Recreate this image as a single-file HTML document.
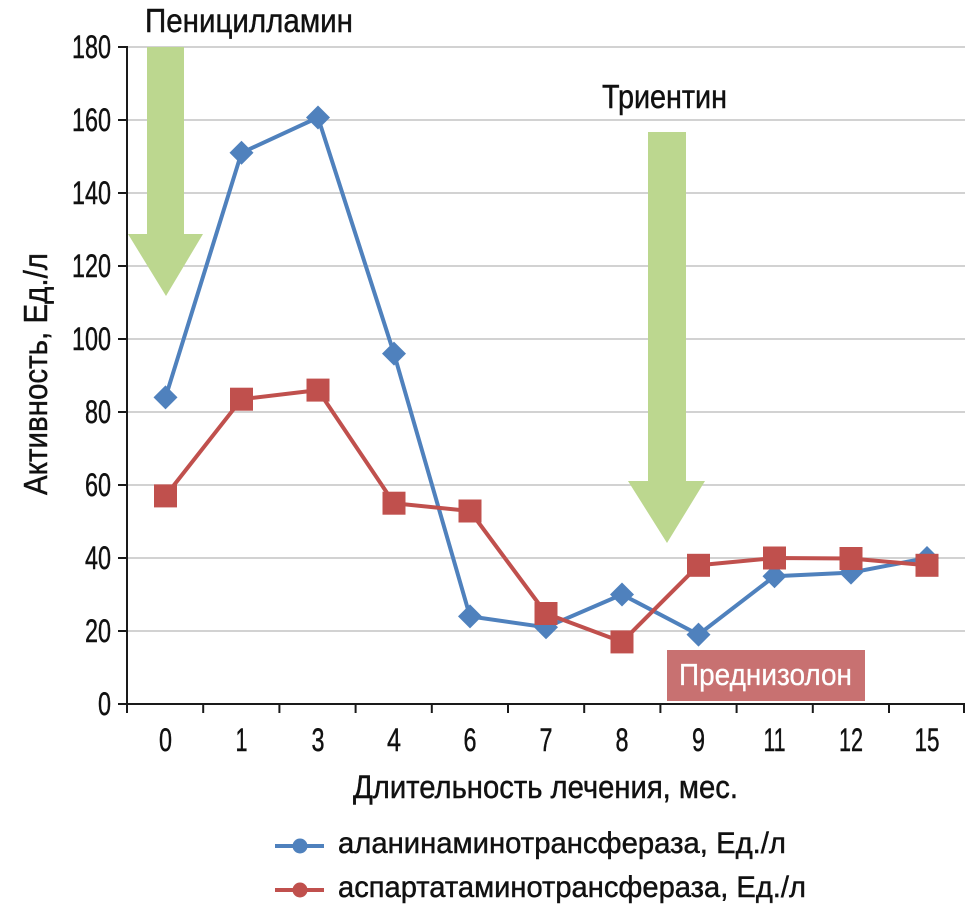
<!DOCTYPE html>
<html>
<head>
<meta charset="utf-8">
<style>
html,body{margin:0;padding:0;background:#fff;}
svg{display:block;}
text{font-family:"Liberation Sans","DejaVu Sans",sans-serif;fill:#111;stroke:#111;stroke-width:0.45px;}
</style>
</head>
<body>
<svg width="980" height="909" viewBox="0 0 980 909" xmlns="http://www.w3.org/2000/svg">
  <rect x="0" y="0" width="980" height="909" fill="#fff"/>
  <!-- gridlines -->
  <g stroke="#c4c4c4" stroke-width="1.5">
    <line x1="127" y1="47" x2="965" y2="47"/>
    <line x1="127" y1="120" x2="965" y2="120"/>
    <line x1="127" y1="193" x2="965" y2="193"/>
    <line x1="127" y1="266" x2="965" y2="266"/>
    <line x1="127" y1="339" x2="965" y2="339"/>
    <line x1="127" y1="412" x2="965" y2="412"/>
    <line x1="127" y1="485" x2="965" y2="485"/>
    <line x1="127" y1="558" x2="965" y2="558"/>
    <line x1="127" y1="631" x2="965" y2="631"/>
  </g>
  <!-- green arrows -->
  <polygon points="147,47 184,47 184,234 203,234 166,296 128,234 147,234" fill="#bcd78f"/>
  <polygon points="648,132 686,132 686,481 705,481 667,543 628,481 648,481" fill="#bcd78f"/>
  <!-- axes -->
  <g stroke="#1a1a1a" stroke-width="2">
    <line x1="127" y1="46" x2="127" y2="713"/>
    <line x1="126" y1="704" x2="965" y2="704"/>
    <line x1="118" y1="47" x2="127" y2="47"/>
    <line x1="118" y1="120" x2="127" y2="120"/>
    <line x1="118" y1="193" x2="127" y2="193"/>
    <line x1="118" y1="266" x2="127" y2="266"/>
    <line x1="118" y1="339" x2="127" y2="339"/>
    <line x1="118" y1="412" x2="127" y2="412"/>
    <line x1="118" y1="485" x2="127" y2="485"/>
    <line x1="118" y1="558" x2="127" y2="558"/>
    <line x1="118" y1="631" x2="127" y2="631"/>
    <line x1="118" y1="704" x2="127" y2="704"/>
    <line x1="203.2" y1="704" x2="203.2" y2="713"/>
    <line x1="279.4" y1="704" x2="279.4" y2="713"/>
    <line x1="355.6" y1="704" x2="355.6" y2="713"/>
    <line x1="431.8" y1="704" x2="431.8" y2="713"/>
    <line x1="508" y1="704" x2="508" y2="713"/>
    <line x1="584.2" y1="704" x2="584.2" y2="713"/>
    <line x1="660.4" y1="704" x2="660.4" y2="713"/>
    <line x1="736.6" y1="704" x2="736.6" y2="713"/>
    <line x1="812.8" y1="704" x2="812.8" y2="713"/>
    <line x1="889" y1="704" x2="889" y2="713"/>
    <line x1="964" y1="704" x2="964" y2="713"/>
  </g>
  <!-- y tick labels -->
  <g font-size="32" text-anchor="end">
    <text x="111" y="58" textLength="39" lengthAdjust="spacingAndGlyphs">180</text>
    <text x="111" y="131" textLength="39" lengthAdjust="spacingAndGlyphs">160</text>
    <text x="111" y="204" textLength="39" lengthAdjust="spacingAndGlyphs">140</text>
    <text x="111" y="277" textLength="39" lengthAdjust="spacingAndGlyphs">120</text>
    <text x="111" y="350" textLength="39" lengthAdjust="spacingAndGlyphs">100</text>
    <text x="111" y="423" textLength="26" lengthAdjust="spacingAndGlyphs">80</text>
    <text x="111" y="496" textLength="26" lengthAdjust="spacingAndGlyphs">60</text>
    <text x="111" y="569" textLength="26" lengthAdjust="spacingAndGlyphs">40</text>
    <text x="111" y="642" textLength="26" lengthAdjust="spacingAndGlyphs">20</text>
    <text x="111" y="715" textLength="13" lengthAdjust="spacingAndGlyphs">0</text>
  </g>
  <!-- x tick labels -->
  <g font-size="32" text-anchor="middle">
    <text x="165.5" y="751" textLength="13" lengthAdjust="spacingAndGlyphs">0</text>
    <text x="241.5" y="751" textLength="12" lengthAdjust="spacingAndGlyphs">1</text>
    <text x="318" y="751" textLength="13" lengthAdjust="spacingAndGlyphs">3</text>
    <text x="394" y="751" textLength="14" lengthAdjust="spacingAndGlyphs">4</text>
    <text x="470" y="751" textLength="13" lengthAdjust="spacingAndGlyphs">6</text>
    <text x="546" y="751" textLength="13" lengthAdjust="spacingAndGlyphs">7</text>
    <text x="622" y="751" textLength="13" lengthAdjust="spacingAndGlyphs">8</text>
    <text x="698.5" y="751" textLength="13" lengthAdjust="spacingAndGlyphs">9</text>
    <text x="774.5" y="751" textLength="22" lengthAdjust="spacingAndGlyphs">11</text>
    <text x="851" y="751" textLength="24" lengthAdjust="spacingAndGlyphs">12</text>
    <text x="927" y="751" textLength="25" lengthAdjust="spacingAndGlyphs">15</text>
  </g>
  <!-- axis titles -->
  <text x="353" y="798" font-size="32" textLength="385" lengthAdjust="spacingAndGlyphs">Длительность лечения, мес.</text>
  <text transform="translate(47,374) rotate(-90)" x="0" y="0" font-size="33" text-anchor="middle" textLength="242" lengthAdjust="spacingAndGlyphs">Активность, Ед./л</text>
  <!-- annotations -->
  <text x="145" y="32" font-size="33" textLength="208" lengthAdjust="spacingAndGlyphs">Пеницилламин</text>
  <text x="602" y="108" font-size="33" textLength="125" lengthAdjust="spacingAndGlyphs">Триентин</text>
  <rect x="667" y="650" width="198" height="51" fill="#c87171"/>
  <text x="679" y="685" font-size="31" textLength="173" lengthAdjust="spacingAndGlyphs" style="fill:#fff;stroke:#fff;stroke-width:0.3px">Преднизолон</text>
  <!-- blue series -->
  <polyline fill="none" stroke="#4f81bd" stroke-width="4" stroke-linejoin="round"
    points="165.5,397.4 241.5,152.8 318,117.5 394,353.6 470,616.4 546,627.3 622,594.5 698.5,634.6 774.5,576.2 851,572.6 927,558"/>
  <g fill="#4f81bd">
    <polygon points="165.5,385.4 177.5,397.4 165.5,409.4 153.5,397.4"/>
    <polygon points="241.5,140.8 253.5,152.8 241.5,164.8 229.5,152.8"/>
    <polygon points="318,105.5 330,117.5 318,129.5 306,117.5"/>
    <polygon points="394,341.6 406,353.6 394,365.6 382,353.6"/>
    <polygon points="470,604.4 482,616.4 470,628.4 458,616.4"/>
    <polygon points="546,615.3 558,627.3 546,639.3 534,627.3"/>
    <polygon points="622,582.5 634,594.5 622,606.5 610,594.5"/>
    <polygon points="698.5,622.6 710.5,634.6 698.5,646.6 686.5,634.6"/>
    <polygon points="774.5,564.2 786.5,576.2 774.5,588.2 762.5,576.2"/>
    <polygon points="851,560.6 863,572.6 851,584.6 839,572.6"/>
    <polygon points="927,546 939,558 927,570 915,558"/>
  </g>
  <!-- red series -->
  <polyline fill="none" stroke="#c0504d" stroke-width="4" stroke-linejoin="round"
    points="165.5,495.9 241.5,399.2 318,390.1 394,503.2 470,511 546,613.5 622,641.9 698.5,565.3 774.5,558 851,558.5 927,565.3"/>
  <g fill="#c0504d">
    <rect x="154" y="484.4" width="23" height="23"/>
    <rect x="230" y="387.7" width="23" height="23"/>
    <rect x="306.5" y="378.6" width="23" height="23"/>
    <rect x="382.5" y="491.7" width="23" height="23"/>
    <rect x="458.5" y="499.5" width="23" height="23"/>
    <rect x="534.5" y="602" width="23" height="23"/>
    <rect x="610.5" y="630.4" width="23" height="23"/>
    <rect x="687" y="553.8" width="23" height="23"/>
    <rect x="763" y="546.5" width="23" height="23"/>
    <rect x="839.5" y="547" width="23" height="23"/>
    <rect x="915.5" y="553.8" width="23" height="23"/>
  </g>
  <!-- legend -->
  <line x1="275" y1="846" x2="324" y2="846" stroke="#4f81bd" stroke-width="4"/>
  <circle cx="300" cy="846" r="7.5" fill="#4f81bd"/>
  <text x="338" y="853" font-size="30" textLength="448" lengthAdjust="spacingAndGlyphs">аланинаминотрансфераза, Ед./л</text>
  <line x1="275" y1="890" x2="324" y2="890" stroke="#c0504d" stroke-width="4"/>
  <circle cx="300" cy="890" r="7.5" fill="#c0504d"/>
  <text x="338" y="897" font-size="30" textLength="468" lengthAdjust="spacingAndGlyphs">аспартатаминотрансфераза, Ед./л</text>
</svg>
</body>
</html>
